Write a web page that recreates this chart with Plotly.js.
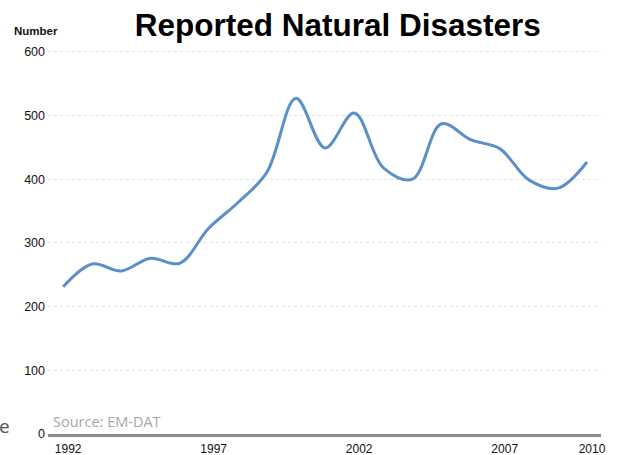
<!DOCTYPE html>
<html>
<head>
<meta charset="utf-8">
<script src="https://cdn.plot.ly/plotly-3.0.1.min.js"></script>
<style>html,body{margin:0;padding:0;background:#fff;}#chart{width:622px;height:455px;}</style>
</head>
<body>
<div id="chart"></div>
<script>
const years = [1992,1993,1994,1995,1996,1997,1998,1999,2000,2001,2002,2003,2004,2005,2006,2007,2008,2009,2010];
const disasters = [231,267,256,276,268,323,363,411,527,449,504,418,400,487,462,448,399,386,427];
const xTickVals = [1992,1997,2002,2007,2010];
const xTickText = ['1992','1997','2002','2007','2010'];
const yTickVals = [0,100,200,300,400,500,600];

const trace = {
  x: years, y: disasters, type: 'scatter', mode: 'lines',
  line: {color: '#5b8fc7', width: 3, shape: 'spline', smoothing: 1},
  hoverinfo: 'x+y'
};

const layout = {
  width: 622, height: 455,
  margin: {l: 48, r: 21, t: 48, b: 21},
  paper_bgcolor: '#ffffff', plot_bgcolor: '#ffffff',
  showlegend: false,
  font: {family: 'Liberation Sans, Arial, sans-serif', color: '#111', size: 12},
  title: {text: '<b>Reported Natural Disasters</b>', x: 0.543, xanchor: 'center', y: 0.945, yanchor: 'middle',
          font: {family: 'Liberation Sans, Arial, sans-serif', size: 31.5, color: '#000'}},
  xaxis: {
    range: [1991.48, 2010.48], tickvals: xTickVals, ticktext: xTickText,
    showgrid: false, zeroline: false, showline: true, linecolor: '#8c8c8c', linewidth: 3,
    ticks: '', ticklabelshift: 5, ticklabelstandoff: 2,
    tickfont: {size: 12, color: '#111'}
  },
  yaxis: {
    range: [0, 606], tickvals: yTickVals, showgrid: true, gridcolor: '#e3e3e3', griddash: 'dot', gridwidth: 1,
    zeroline: false, showline: false, ticks: '', ticklabelstandoff: 2,
    tickfont: {size: 12.5, color: '#111'}
  },
  annotations: [
    {text: '<b>Number</b>', xref: 'paper', yref: 'paper', x: -0.066, y: 1.043, xanchor: 'left', yanchor: 'middle',
     showarrow: false, font: {size: 11.5, color: '#111'}},
    {text: 'Source: EM-DAT', xref: 'paper', yref: 'paper', x: 0.005, y: 0.033, xanchor: 'left', yanchor: 'middle',
     showarrow: false, font: {family: 'Open Sans, sans-serif', size: 14.5, color: '#a6a6a6'}},
    {text: 'e', xref: 'paper', yref: 'paper', x: -0.092, y: 0.02, xanchor: 'left', yanchor: 'middle',
     showarrow: false, font: {family: 'Open Sans, sans-serif', size: 19, color: '#555'}}
  ]
};

Plotly.newPlot('chart', [trace], layout, {displayModeBar: false});
</script>
</body>
</html>
